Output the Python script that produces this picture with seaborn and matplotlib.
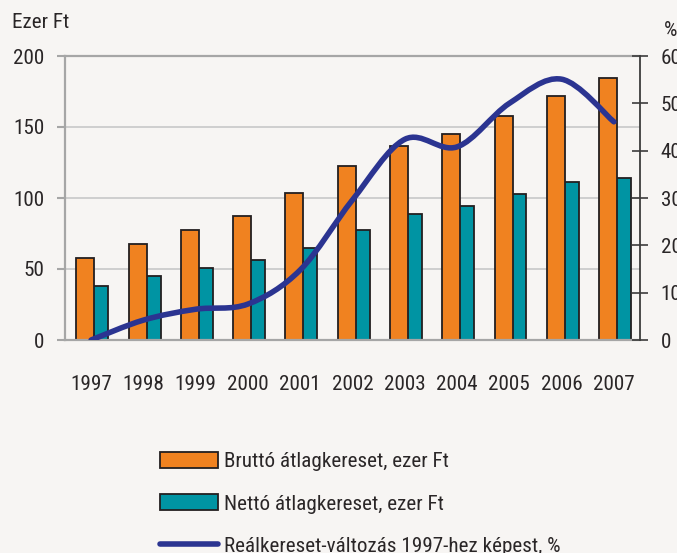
import numpy as np
import pandas as pd
import seaborn as sns
import matplotlib.pyplot as plt
from matplotlib.path import Path
from matplotlib.patches import PathPatch, Patch
from matplotlib.lines import Line2D

years = ["1997", "1998", "1999", "2000", "2001", "2002", "2003", "2004", "2005", "2006", "2007"]
brutto = [57.5, 67.6, 77.2, 87.3, 103.8, 122.5, 136.6, 145.0, 157.7, 171.6, 184.5]
netto = [37.8, 45.0, 50.4, 56.0, 64.5, 77.5, 88.6, 94.1, 102.6, 111.0, 114.0]
real_change = [0.0, 4.2, 6.5, 7.6, 14.8, 29.6, 42.4, 40.8, 50.0, 55.1, 46.1]

orange = (240/255, 130/255, 32/255)
teal = (0/255, 148/255, 163/255)
navy = (43/255, 52/255, 145/255)
edge = "#231f20"
txt = "#2a2627"
bg = "#f7f5f3"

sns.set_theme(style="white")
plt.rcParams["font.family"] = ["Roboto Condensed", "Liberation Sans", "DejaVu Sans"]
plt.rcParams["text.color"] = txt
plt.rcParams["xtick.color"] = txt
plt.rcParams["ytick.color"] = txt
fs = 15.2

df = pd.DataFrame({"pos": np.arange(len(years)), "brutto": brutto, "netto": netto})

fig = plt.figure(figsize=(6.77, 5.53), dpi=100, facecolor=bg)
ax = fig.add_axes([65/677, 1-340/553, (640-65)/677, (340-56)/553])
ax.set_facecolor("none")

# netto first, brutto on top (overlapping bars)
sns.barplot(x=df["pos"] + 0.155, y=df["netto"], native_scale=True, width=0.345,
            color=teal, saturation=1, edgecolor=edge, linewidth=1.3, errorbar=None, ax=ax)
sns.barplot(x=df["pos"] - 0.11, y=df["brutto"], native_scale=True, width=0.345,
            color=orange, saturation=1, edgecolor=edge, linewidth=1.3, errorbar=None, ax=ax)

ax.set_xlim(-0.5, len(years) - 0.5)
ax.set_ylim(0, 200)
ax.set_yticks([0, 50, 100, 150, 200])
ax.set_xticks(np.arange(-0.5, len(years), 1))
ax.set_xticklabels([])
ax.set_xticks(np.arange(len(years)), minor=True)
ax.set_xticklabels(years, minor=True)
ax.set_xlabel("")
ax.set_ylabel("")
ax.yaxis.grid(True, color="#c8c8c8", lw=1.2)
ax.set_axisbelow(True)
for s in ["left", "bottom", "top"]:
    ax.spines[s].set_color("#a6a6a6")
    ax.spines[s].set_linewidth(1.6)
ax.spines["right"].set_visible(False)
ax.tick_params(axis="y", direction="out", length=6, width=1.5, color="#a6a6a6", pad=9, labelsize=fs)
ax.tick_params(axis="x", which="major", direction="inout", length=12, width=1.5, color="#a6a6a6")
ax.tick_params(axis="x", which="minor", length=0, pad=25, labelsize=fs)

# real wage change on secondary axis, smoothed line
ax2 = ax.twinx()
ax2.set_ylim(0, 60)
ax2.set_yticks(range(0, 61, 10))
xs = df["pos"].to_numpy(dtype=float)
ys = np.array(real_change)
n = len(xs)
verts = [(xs[0], ys[0])]
codes = [Path.MOVETO]
for i in range(n - 1):
    i0, i3 = max(i - 1, 0), min(i + 2, n - 1)
    c1 = (xs[i] + (xs[i+1] - xs[i0]) / 6, ys[i] + (ys[i+1] - ys[i0]) / 6)
    c2 = (xs[i+1] - (xs[i3] - xs[i]) / 6, ys[i+1] - (ys[i3] - ys[i]) / 6)
    verts += [c1, c2, (xs[i+1], ys[i+1])]
    codes += [Path.CURVE4] * 3
ax2.add_patch(PathPatch(Path(verts, codes), fill=False, edgecolor=navy, lw=4,
                        capstyle="round", joinstyle="round"))
for s in ["left", "bottom", "top"]:
    ax2.spines[s].set_visible(False)
ax2.spines["right"].set_color("#3c3c3c")
ax2.spines["right"].set_linewidth(1.3)
ax2.tick_params(axis="y", direction="inout", length=12, width=1.2, color="#3c3c3c", pad=9, labelsize=fs)
ax2.grid(False)

fig.text(12/677, 1-23/553, "Ezer Ft", fontsize=fs, ha="left", va="center")
fig.text(664/677, 1-30/553, "%", fontsize=fs, ha="left", va="center")

handles = [
    Patch(facecolor=orange, edgecolor=edge, linewidth=1.3),
    Patch(facecolor=teal, edgecolor=edge, linewidth=1.3),
    Line2D([], [], color=navy, lw=4, solid_capstyle="round"),
]
labels = ["Bruttó átlagkereset, ezer Ft", "Nettó átlagkereset, ezer Ft",
          "Reálkereset-változás 1997-hez képest, %"]
fig.legend(handles, labels, loc="upper left", bbox_to_anchor=(160/677, 1-452/553),
           frameon=False, fontsize=fs, handlelength=2.75, handleheight=0.8,
           handletextpad=0.3, labelspacing=1.08, borderpad=0, borderaxespad=0)

fig.savefig("out.png", dpi=100, facecolor=bg)
